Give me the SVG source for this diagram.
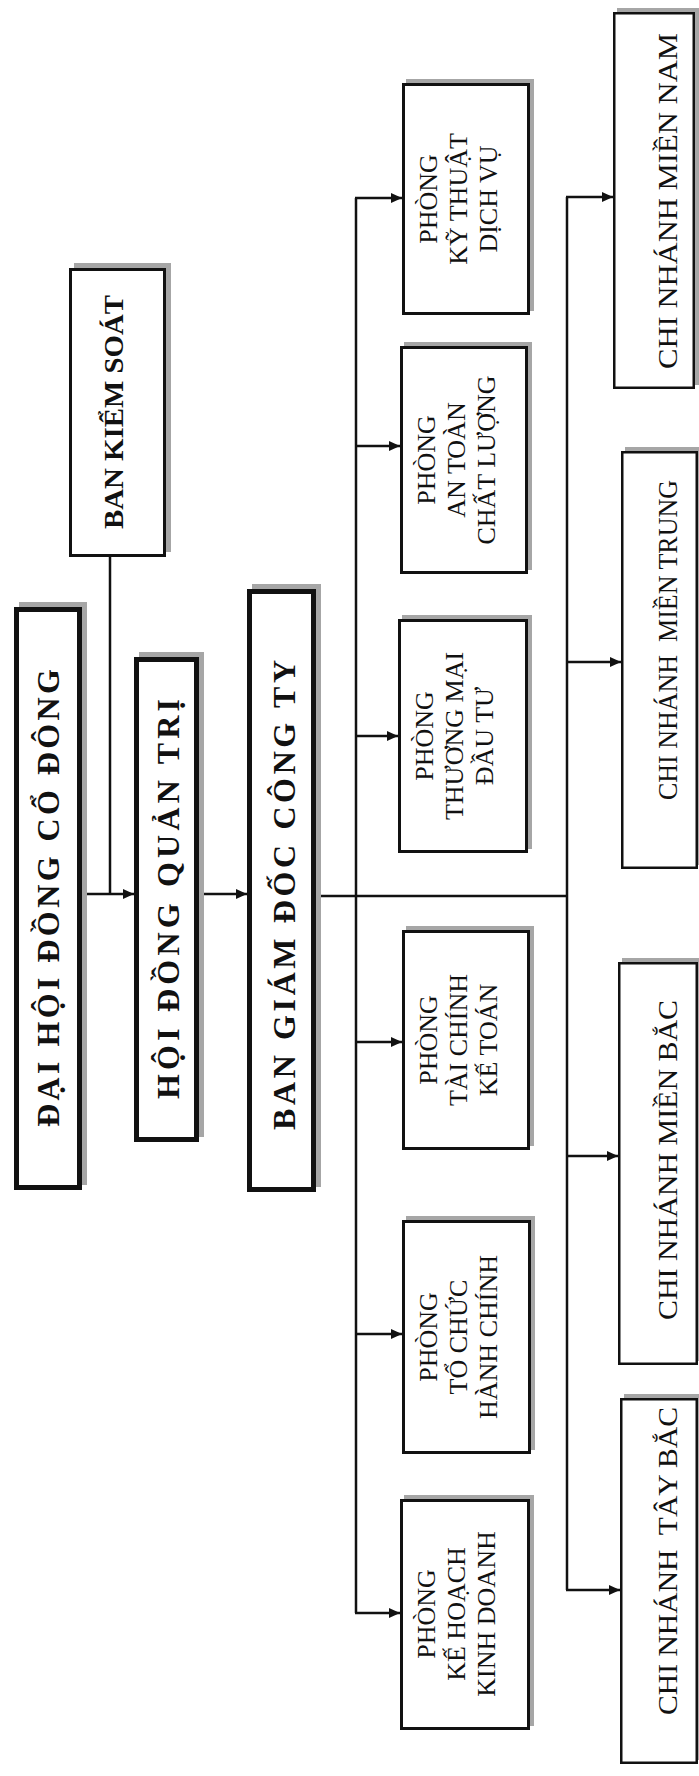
<svg xmlns="http://www.w3.org/2000/svg" width="699" height="1776" viewBox="0 0 699 1776">
<style>
.bg{fill:#ffffff}
.sh{fill:#a6a6a6}
.bxm{fill:#ffffff;stroke:#111;stroke-width:5}
.bxd{fill:#ffffff;stroke:#111;stroke-width:3}
.bxb{fill:#ffffff;stroke:#111;stroke-width:2.5}
.tm{font-family:"Liberation Serif","Times New Roman",serif;font-weight:bold;font-size:32px;fill:#111}
.tk{font-family:"Liberation Serif","Times New Roman",serif;font-weight:bold;font-size:28px;fill:#111}
.td{font-family:"Liberation Serif","Times New Roman",serif;font-size:26px;fill:#111;text-anchor:middle}
.tb{font-family:"Liberation Serif","Times New Roman",serif;font-size:27px;fill:#111;white-space:pre}
.ln{fill:none;stroke:#111;stroke-width:2.5}
.ar{fill:none;stroke:#111;stroke-width:2.5;marker-end:url(#ah)}
</style>
<defs>
<marker id="ah" markerUnits="userSpaceOnUse" markerWidth="12" markerHeight="10" refX="11" refY="5" orient="auto">
<path d="M0,0 L11,5 L0,10 z" fill="#111"/>
</marker>
</defs>
<rect class="bg" x="0" y="0" width="699" height="1776"/>

<g id="connectors">
<path class="ln" d="M110,557 V894"/>
<path class="ar" d="M82,894 H134"/>
<path class="ar" d="M199,894 H247"/>
<path class="ln" d="M316,896 H567"/>
<path class="ln" d="M356,198 V1613"/>
<path class="ln" d="M567,197 V1590"/>
<path class="ar" d="M355,198 H402"/>
<path class="ar" d="M355,446 H400"/>
<path class="ar" d="M355,736 H398"/>
<path class="ar" d="M355,1042 H402"/>
<path class="ar" d="M355,1334 H402"/>
<path class="ar" d="M355,1613 H400"/>
<path class="ar" d="M566,197 H613"/>
<path class="ar" d="M566,662 H621"/>
<path class="ar" d="M566,1156 H618"/>
<path class="ar" d="M566,1590 H620"/>
</g>

<g id="n-bks">
<rect class="sh" x="74" y="263" width="97" height="289"/>
<rect class="bxd" x="70.5" y="269.5" width="94" height="286"/>
<text class="tk" transform="translate(123,412) rotate(-90)" x="-117" y="0" textLength="234" lengthAdjust="spacingAndGlyphs">BAN KIỂM SOÁT</text>
</g>

<g id="n-dhcd">
<rect class="sh" x="19" y="602" width="68" height="583"/>
<rect class="bxm" x="16.5" y="609.5" width="63" height="578"/>
<text class="tm" transform="translate(59,898) rotate(-90)" x="-229" y="0" textLength="458" lengthAdjust="spacing">ĐẠI HỘI ĐỒNG CỔ ĐÔNG</text>
</g>

<g id="n-hdqt">
<rect class="sh" x="139" y="652" width="65" height="485"/>
<rect class="bxm" x="136.5" y="659.5" width="60" height="480"/>
<text class="tm" transform="translate(179,899) rotate(-90)" x="-200" y="0" textLength="400" lengthAdjust="spacing">HỘI ĐỒNG QUẢN TRỊ</text>
</g>

<g id="n-bgd">
<rect class="sh" x="252" y="584" width="69" height="603"/>
<rect class="bxm" x="249.5" y="591.5" width="64" height="598"/>
<text class="tm" transform="translate(295,895) rotate(-90)" x="-235" y="0" textLength="470" lengthAdjust="spacing">BAN GIÁM ĐỐC CÔNG TY</text>
</g>

<g id="n-kt">
<rect class="sh" x="406" y="79" width="128" height="232"/>
<rect class="bxd" x="403.5" y="84.5" width="125" height="229"/>
<text class="td" transform="translate(402,199) rotate(-90)"><tspan x="0" y="35">PHÒNG</tspan><tspan x="0" y="65">KỸ THUẬT</tspan><tspan x="0" y="95">DỊCH VỤ</tspan></text>
</g>

<g id="n-at">
<rect class="sh" x="404" y="342" width="128" height="228"/>
<rect class="bxd" x="401.5" y="347.5" width="125" height="225"/>
<text class="td" transform="translate(400,460) rotate(-90)"><tspan x="0" y="35">PHÒNG</tspan><tspan x="0" y="65">AN TOÀN</tspan><tspan x="0" y="95">CHẤT LƯỢNG</tspan></text>
</g>

<g id="n-tm">
<rect class="sh" x="402" y="615" width="130" height="234"/>
<rect class="bxd" x="399.5" y="620.5" width="127" height="231"/>
<text class="td" transform="translate(398,736) rotate(-90)"><tspan x="0" y="35">PHÒNG</tspan><tspan x="0" y="65">THƯƠNG MẠI</tspan><tspan x="0" y="95">ĐẦU TƯ</tspan></text>
</g>

<g id="n-tc">
<rect class="sh" x="406" y="926" width="128" height="220"/>
<rect class="bxd" x="403.5" y="931.5" width="125" height="217"/>
<text class="td" transform="translate(402,1040) rotate(-90)"><tspan x="0" y="35">PHÒNG</tspan><tspan x="0" y="65">TÀI CHÍNH</tspan><tspan x="0" y="95">KẾ TOÁN</tspan></text>
</g>

<g id="n-tch">
<rect class="sh" x="406" y="1216" width="129" height="234"/>
<rect class="bxd" x="403.5" y="1221.5" width="126" height="231"/>
<text class="td" transform="translate(402,1337) rotate(-90)"><tspan x="0" y="35">PHÒNG</tspan><tspan x="0" y="65">TỔ CHỨC</tspan><tspan x="0" y="95">HÀNH CHÍNH</tspan></text>
</g>

<g id="n-kh">
<rect class="sh" x="404" y="1495" width="130" height="231"/>
<rect class="bxd" x="401.5" y="1500.5" width="127" height="228"/>
<text class="td" transform="translate(400,1614) rotate(-90)"><tspan x="0" y="35">PHÒNG</tspan><tspan x="0" y="65">KẾ HOẠCH</tspan><tspan x="0" y="95">KINH DOANH</tspan></text>
</g>

<g id="n-mn">
<rect class="sh" x="617" y="8" width="82" height="377"/>
<rect class="bxb" x="614.25" y="13.25" width="79.5" height="374.5"/>
<text class="tb" transform="translate(677,201) rotate(-90)" x="-168" y="0" textLength="336" lengthAdjust="spacingAndGlyphs">CHI NHÁNH MIỀN NAM</text>
</g>

<g id="n-mt">
<rect class="sh" x="625" y="447" width="74" height="418"/>
<rect class="bxb" x="622.25" y="452.25" width="74.5" height="415.5"/>
<text class="tb" transform="translate(677,640) rotate(-90)" x="-160" y="0" textLength="320" lengthAdjust="spacingAndGlyphs">CHI NHÁNH  MIỀN TRUNG</text>
</g>

<g id="n-mb">
<rect class="sh" x="622" y="958" width="77" height="403"/>
<rect class="bxb" x="619.25" y="963.25" width="77.5" height="400.5"/>
<text class="tb" transform="translate(677,1160) rotate(-90)" x="-160" y="0" textLength="320" lengthAdjust="spacingAndGlyphs">CHI NHÁNH MIỀN BẮC</text>
</g>

<g id="n-tb">
<rect class="sh" x="624" y="1394" width="75" height="366"/>
<rect class="bxb" x="621.25" y="1399.25" width="75.5" height="363.5"/>
<text class="tb" transform="translate(677,1561) rotate(-90)" x="-154" y="0" textLength="308" lengthAdjust="spacingAndGlyphs">CHI NHÁNH  TÂY BẮC</text>
</g>
</svg>
